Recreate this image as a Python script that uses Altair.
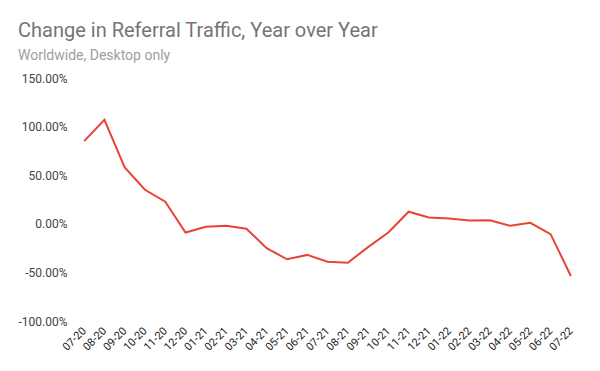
import altair as alt
import pandas as pd

months = ["07-20", "08-20", "09-20", "10-20", "11-20", "12-20",
          "01-21", "02-21", "03-21", "04-21", "05-21", "06-21",
          "07-21", "08-21", "09-21", "10-21", "11-21", "12-21",
          "01-22", "02-22", "03-22", "04-22", "05-22", "06-22", "07-22"]
change_pct = [85, 107, 58, 35, 22.7, -9,
              -3, -2, -5, -25, -36.5, -32,
              -39, -40, -24, -9, 12.4, 6.5,
              5.5, 3.4, 3.6, -2, 1, -10.6, -53.7]
y_ticks = [-100, -50, 0, 50, 100, 150]

df = pd.DataFrame({"month": months, "change": change_pct})

chart = alt.Chart(df).mark_line(color="#EA4335", strokeWidth=2).encode(
    x=alt.X("month:O", sort=months,
            scale=alt.Scale(type="point", padding=0.5),
            axis=alt.Axis(title=None, labelAngle=-45, labelAlign="right",
                          labelBaseline="middle", domain=False, ticks=False,
                          grid=False, labelPadding=8, labelFont="Roboto",
                          labelFontSize=11, labelColor="#222222")),
    y=alt.Y("change:Q", scale=alt.Scale(domain=[-100, 150], nice=False, zero=False),
            axis=alt.Axis(title=None, values=y_ticks, domain=False, ticks=False,
                          grid=False, labelPadding=7, labelFont="Roboto",
                          labelFontSize=12, labelColor="#444444",
                          labelExpr="replace(format(datum.value, '.2f'), '\u2212', '-') + '%'")),
).properties(
    width=507,
    height=243,
    padding={"left": 66, "top": 70, "right": 11, "bottom": 42},
    autosize=alt.AutoSizeParams(type="none"),
    title=alt.TitleParams(
        text="Change in Referral Traffic, Year over Year",
        subtitle="Worldwide, Desktop only",
        anchor="start", frame="bounds",
        font="Roboto", fontSize=20, fontWeight="normal", color="#757575",
        subtitleFont="Roboto", subtitleFontSize=14, subtitleColor="#9E9E9E",
        subtitlePadding=8, offset=9,
    ),
).configure_view(stroke=None)

chart.save("out.html", embed_options={"renderer": "svg", "actions": False})
